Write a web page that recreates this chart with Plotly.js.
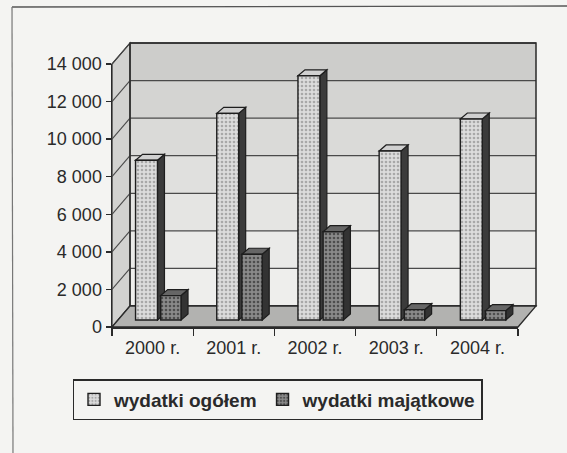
<!DOCTYPE html>
<html>
<head>
<meta charset="utf-8">
<script src="https://cdn.plot.ly/plotly-3.0.1.min.js"></script>
<style>
  html, body { margin: 0; padding: 0; background: #f4f4f2; }
  #chart { width: 567px; height: 453px; }
</style>
</head>
<body>
<div id="chart"></div>
<script>
// ---- data ----
const categories = ['2000 r.', '2001 r.', '2002 r.', '2003 r.', '2004 r.'];
const wydatkiOgolem = [8500, 11000, 13000, 9000, 10700];
const wydatkiMajatkowe = [1300, 3500, 4700, 550, 500];
const seriesNames = ['wydatki ogółem', 'wydatki majątkowe'];
const yTicks = [0, 2000, 4000, 6000, 8000, 10000, 12000, 14000];
const yTickLabels = ['0', '2 000', '4 000', '6 000', '8 000', '10 000', '12 000', '14 000'];

// ---- layout geometry / style ----
const FIG_W = 567, FIG_H = 453;
const M = { l: 112, r: 49, t: 64, b: 126 };
const PW = FIG_W - M.l - M.r, PH = FIG_H - M.t - M.b;
const YMAX = yTicks[yTicks.length - 1];
const N = categories.length;
const WALL_DX = 18, WALL_DY = 21;      // wall depth in px
const BAR_PLANE_DY = 7;                // bars stand slightly behind front plane
const BAR_DX = 7, BAR_DY = 6;          // bar depth in px
const dxp = WALL_DX / PW, dyp = WALL_DY / PH;
const pxY = YMAX / PH;                 // data units per px
const BASE = BAR_PLANE_DY * pxY;
const series = [
  { name: seriesNames[0], vals: wydatkiOgolem, off: -0.21, w: 0.27,
    fg: '#a8a8a8', bg: '#dcdcdc', side: '#3b3b3b', top: '#d0d0d0' },
  { name: seriesNames[1], vals: wydatkiMajatkowe, off: 0.10, w: 0.25,
    fg: '#4e4e4e', bg: '#8a8a8a', side: '#333333', top: '#666666' }
];
const bandColors = ['#eeeeec', '#eaeae8', '#e5e5e3', '#e0e0de', '#dadad8', '#d4d4d2', '#cdcdcb'];
const LINE = '#2a2a2a';
const FONT = 'Liberation Sans, Arial, sans-serif';

const shapes = [];
// frame of the scanned page
const fx = (px) => (px - M.l) / PW;
const fy = (py) => (FIG_H - M.b - py) / PH;
shapes.push({ type: 'line', xref: 'paper', yref: 'paper', x0: fx(12), x1: fx(567), y0: fy(7), y1: fy(6),
  line: { color: '#555', width: 1.3 } });
shapes.push({ type: 'line', xref: 'paper', yref: 'paper', x0: fx(12), x1: fx(13), y0: fy(7), y1: fy(453),
  line: { color: '#777', width: 1.2 } });

// back wall bands
for (let i = 0; i < yTicks.length - 1; i++) {
  shapes.push({ type: 'rect', xref: 'paper', yref: 'paper', layer: 'below',
    x0: dxp, x1: 1 + dxp, y0: yTicks[i] / YMAX + dyp, y1: yTicks[i + 1] / YMAX + dyp,
    fillcolor: bandColors[i], line: { width: 0 } });
}
// left wall
shapes.push({ type: 'path', xref: 'paper', yref: 'paper', layer: 'below',
  path: `M 0,0 L 0,1 L ${dxp},${1 + dyp} L ${dxp},${dyp} Z`,
  fillcolor: '#d2d2d0', line: { color: LINE, width: 1.2 } });
// gridlines on back and left wall
yTicks.forEach((v) => {
  const yp = v / YMAX;
  shapes.push({ type: 'line', xref: 'paper', yref: 'paper', layer: 'below',
    x0: dxp, x1: 1 + dxp, y0: yp + dyp, y1: yp + dyp, line: { color: '#4a4a4a', width: 1.3 } });
  shapes.push({ type: 'line', xref: 'paper', yref: 'paper', layer: 'below',
    x0: 0, x1: dxp, y0: yp, y1: yp + dyp, line: { color: '#4a4a4a', width: 1.1 } });
});
// back wall outline
shapes.push({ type: 'rect', xref: 'paper', yref: 'paper', layer: 'below',
  x0: dxp, x1: 1 + dxp, y0: dyp, y1: 1 + dyp, line: { color: LINE, width: 1.5 } });
// floor
shapes.push({ type: 'path', xref: 'paper', yref: 'paper', layer: 'below',
  path: `M 0,0 L 1,0 L ${1 + dxp},${dyp} L ${dxp},${dyp} Z`,
  fillcolor: '#b2b2b0', line: { color: LINE, width: 1.3 } });

// 3D side and top faces of bars
const bdx = BAR_DX / PW, bdy = BAR_DY * pxY;
categories.forEach((c, i) => {
  series.forEach((s) => {
    const xl = (i + 0.5 + s.off) / N;
    const xr = (i + 0.5 + s.off + s.w) / N;
    const top = BASE + s.vals[i];
    shapes.push({ type: 'path', xref: 'paper', yref: 'y', layer: 'below',
      path: `M ${xr},${BASE} L ${xr + bdx},${BASE + bdy} L ${xr + bdx},${top + bdy} L ${xr},${top} Z`,
      fillcolor: s.side, line: { color: '#1e1e1e', width: 1.2 } });
    shapes.push({ type: 'path', xref: 'paper', yref: 'y', layer: 'below',
      path: `M ${xl},${top} L ${xl + bdx},${top + bdy} L ${xr + bdx},${top + bdy} L ${xr},${top} Z`,
      fillcolor: s.top, line: { color: '#1e1e1e', width: 1.2 } });
  });
});

const traces = series.map((s) => ({
  type: 'bar',
  name: s.name,
  x: categories,
  y: s.vals,
  base: BASE,
  offset: s.off,
  width: s.w,
  marker: {
    color: s.bg,
    line: { color: '#1e1e1e', width: 1.4 },
    pattern: { shape: '.', fgcolor: s.fg, bgcolor: s.bg, size: 4, solidity: 0.35 }
  },
  hoverinfo: 'skip'
}));

const layout = {
  width: FIG_W, height: FIG_H,
  margin: M,
  paper_bgcolor: '#f4f4f2',
  plot_bgcolor: 'rgba(0,0,0,0)',
  showlegend: true,
  barmode: 'overlay',
  font: { family: FONT, color: '#2a2a2a', size: 18 },
  xaxis: {
    type: 'category',
    range: [-0.5, N - 0.5],
    tickson: 'boundaries',
    ticks: 'outside', ticklen: 7, tickcolor: LINE, tickwidth: 1.3,
    ticklabelstandoff: 4,
    showline: true, linecolor: LINE, linewidth: 1.5,
    showgrid: false, zeroline: false,
    tickfont: { family: FONT, size: 18, color: '#2a2a2a' },
    fixedrange: true
  },
  yaxis: {
    range: [0, YMAX],
    tickvals: yTicks, ticktext: yTickLabels,
    ticks: 'outside', ticklen: 5, tickcolor: LINE, tickwidth: 1.3,
    showline: true, linecolor: LINE, linewidth: 1.5,
    showgrid: false, zeroline: false,
    tickfont: { family: FONT, size: 18, color: '#2a2a2a' },
    fixedrange: true
  },
  legend: {
    orientation: 'h',
    xref: 'container', yref: 'container',
    x: ((69 + 486) / 2) / FIG_W, xanchor: 'center',
    y: 1 - 399.5 / FIG_H, yanchor: 'middle',
    bgcolor: 'rgba(0,0,0,0)',
    bordercolor: LINE, borderwidth: 1.5,
    font: { family: FONT, size: 19, weight: 'bold', color: '#2a2a2a' },
    itemwidth: 30,
    traceorder: 'normal'
  },
  shapes: shapes
};

Plotly.newPlot('chart', traces, layout, { displayModeBar: false, staticPlot: true });
</script>
</body>
</html>
